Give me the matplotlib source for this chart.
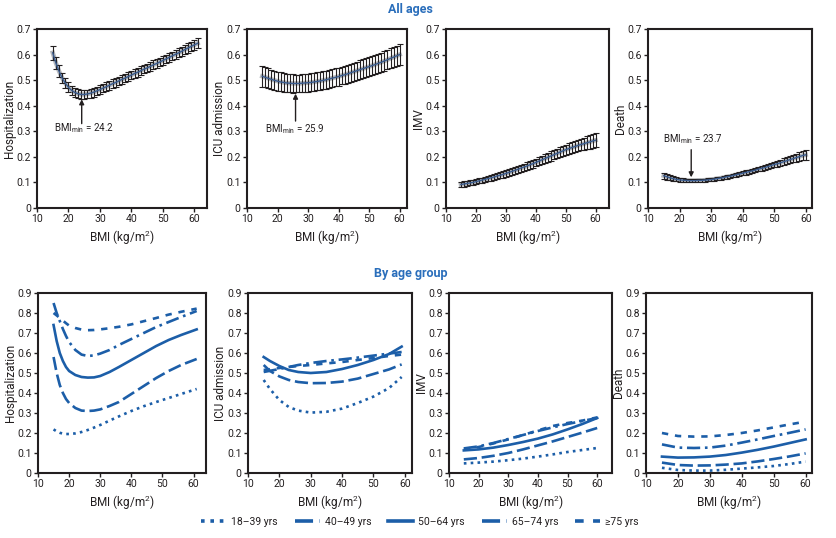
import numpy as np
import matplotlib
matplotlib.use('Agg')
import matplotlib.pyplot as plt
from matplotlib.lines import Line2D

plt.rcParams['font.family'] = ['Roboto', 'DejaVu Sans']
plt.rcParams['mathtext.fontset'] = 'custom'
plt.rcParams['mathtext.rm'] = 'Roboto'

BLUE = '#1c5ea8'
TITLE_BLUE = '#2a6ebb'
INK = '#231f20'

# ── All ages (top row): point estimates with 95% CI half-widths ───────────
bmi_hosp = list(range(15, 62))
hosp = [0.607, 0.567, 0.535, 0.508, 0.488, 0.472, 0.460, 0.452, 0.447, 0.444,
        0.444, 0.446, 0.449, 0.453, 0.458, 0.463, 0.469, 0.474, 0.480, 0.486,
        0.491, 0.497, 0.503, 0.508, 0.514, 0.520, 0.526, 0.531, 0.537, 0.543,
        0.548, 0.554, 0.560, 0.565, 0.571, 0.577, 0.583, 0.589, 0.595, 0.601,
        0.607, 0.613, 0.620, 0.626, 0.632, 0.638, 0.644]
hosp_err = [0.028, 0.025, 0.023, 0.021, 0.020, 0.019, 0.018, 0.018, 0.017, 0.017,
            0.017, 0.017, 0.017, 0.017, 0.017, 0.017, 0.017, 0.017, 0.017, 0.017,
            0.017, 0.017, 0.017, 0.017, 0.017, 0.017, 0.017, 0.017, 0.017, 0.017,
            0.017, 0.017, 0.017, 0.017, 0.017, 0.017, 0.017, 0.017, 0.017, 0.018,
            0.018, 0.018, 0.018, 0.018, 0.019, 0.019, 0.020]

bmi_icu = list(range(15, 61))
icu = [0.515, 0.511, 0.507, 0.503, 0.499, 0.496, 0.493, 0.491, 0.489, 0.488,
       0.487, 0.487, 0.487, 0.488, 0.489, 0.490, 0.491, 0.493, 0.495, 0.497,
       0.499, 0.502, 0.505, 0.508, 0.511, 0.514, 0.518, 0.521, 0.525, 0.529,
       0.533, 0.537, 0.541, 0.545, 0.549, 0.553, 0.557, 0.561, 0.566, 0.570,
       0.575, 0.580, 0.585, 0.590, 0.595, 0.600]
icu_err = [0.040, 0.039, 0.039, 0.038, 0.038, 0.037, 0.037, 0.036, 0.036, 0.036,
           0.036, 0.035, 0.035, 0.035, 0.035, 0.035, 0.035, 0.035, 0.035, 0.035,
           0.035, 0.035, 0.035, 0.035, 0.035, 0.035, 0.035, 0.035, 0.035, 0.035,
           0.035, 0.035, 0.036, 0.036, 0.036, 0.036, 0.037, 0.037, 0.037, 0.038,
           0.038, 0.038, 0.039, 0.039, 0.040, 0.040]

bmi_imv = list(range(15, 61))
imv = [0.092, 0.094, 0.096, 0.098, 0.100, 0.103, 0.106, 0.109, 0.112, 0.115,
       0.118, 0.121, 0.125, 0.128, 0.131, 0.135, 0.139, 0.143, 0.147, 0.151,
       0.156, 0.160, 0.164, 0.169, 0.173, 0.178, 0.183, 0.188, 0.193, 0.198,
       0.203, 0.208, 0.213, 0.218, 0.223, 0.228, 0.232, 0.236, 0.240, 0.244,
       0.248, 0.251, 0.255, 0.258, 0.262, 0.265]
imv_err = [0.010, 0.010, 0.010, 0.010, 0.010, 0.010, 0.010, 0.010, 0.011, 0.011,
           0.011, 0.011, 0.011, 0.012, 0.012, 0.012, 0.012, 0.013, 0.013, 0.013,
           0.014, 0.014, 0.014, 0.015, 0.015, 0.015, 0.016, 0.016, 0.017, 0.017,
           0.018, 0.018, 0.019, 0.019, 0.020, 0.020, 0.021, 0.021, 0.022, 0.023,
           0.023, 0.024, 0.025, 0.026, 0.027, 0.028]

bmi_death = list(range(15, 61))
death = [0.126, 0.122, 0.118, 0.115, 0.112, 0.110, 0.109, 0.108, 0.107, 0.107,
         0.107, 0.108, 0.108, 0.109, 0.110, 0.111, 0.113, 0.115, 0.117, 0.119,
         0.122, 0.124, 0.127, 0.130, 0.133, 0.136, 0.139, 0.142, 0.145, 0.148,
         0.152, 0.155, 0.158, 0.162, 0.166, 0.170, 0.173, 0.177, 0.181, 0.185,
         0.189, 0.193, 0.197, 0.201, 0.205, 0.208]
death_err = [0.012, 0.011, 0.010, 0.009, 0.008, 0.007, 0.007, 0.007, 0.006, 0.006,
             0.006, 0.006, 0.006, 0.006, 0.006, 0.006, 0.006, 0.006, 0.006, 0.007,
             0.007, 0.007, 0.007, 0.007, 0.008, 0.008, 0.008, 0.008, 0.009, 0.009,
             0.009, 0.010, 0.010, 0.010, 0.011, 0.011, 0.012, 0.012, 0.013, 0.014,
             0.014, 0.015, 0.016, 0.017, 0.018, 0.019]

bmi_min = {'hosp': 24.2, 'icu': 25.9, 'death': 23.7}

# ── By age group (bottom row) ─────────────────────────────────────────────
age_groups = ['18–39 yrs', '40–49 yrs', '50–64 yrs', '65–74 yrs', '≥75 yrs']

bmi_h_age = [15, 16, 17, 18, 19, 20, 22, 24, 26, 28, 30, 33, 36, 40, 44, 48, 52, 56, 61]
hosp_age = [
    [0.218, 0.208, 0.201, 0.197, 0.195, 0.195, 0.198, 0.205, 0.215, 0.227, 0.240,
     0.262, 0.283, 0.310, 0.334, 0.355, 0.375, 0.395, 0.420],
    [0.580, 0.500, 0.440, 0.400, 0.370, 0.350, 0.325, 0.312, 0.310, 0.312, 0.318,
     0.335, 0.355, 0.395, 0.435, 0.475, 0.510, 0.540, 0.570],
    [0.740, 0.660, 0.600, 0.560, 0.530, 0.510, 0.490, 0.480, 0.477, 0.478, 0.485,
     0.505, 0.530, 0.565, 0.600, 0.635, 0.665, 0.690, 0.718],
    [0.850, 0.800, 0.760, 0.720, 0.685, 0.655, 0.615, 0.592, 0.585, 0.588, 0.597,
     0.615, 0.640, 0.670, 0.700, 0.730, 0.755, 0.780, 0.810],
    [0.800, 0.788, 0.775, 0.762, 0.749, 0.737, 0.725, 0.717, 0.714, 0.715, 0.718,
     0.724, 0.731, 0.743, 0.759, 0.775, 0.792, 0.806, 0.822],
]

bmi_i_age = [15, 17, 20, 23, 26, 30, 35, 40, 45, 50, 55, 59]
icu_age = [
    [0.465, 0.420, 0.365, 0.330, 0.312, 0.302, 0.306, 0.322, 0.350, 0.382, 0.425, 0.480],
    [0.540, 0.510, 0.483, 0.465, 0.455, 0.449, 0.450, 0.457, 0.472, 0.495, 0.518, 0.543],
    [0.580, 0.560, 0.535, 0.515, 0.505, 0.500, 0.505, 0.520, 0.540, 0.565, 0.595, 0.632],
    [0.505, 0.511, 0.520, 0.530, 0.540, 0.550, 0.560, 0.568, 0.577, 0.587, 0.597, 0.605],
    [0.515, 0.519, 0.525, 0.530, 0.535, 0.540, 0.548, 0.555, 0.565, 0.575, 0.585, 0.592],
]

bmi_v_age = [15, 20, 25, 30, 35, 40, 45, 50, 55, 60]
imv_age = [
    [0.048, 0.052, 0.057, 0.064, 0.072, 0.082, 0.093, 0.105, 0.115, 0.125],
    [0.068, 0.075, 0.086, 0.100, 0.118, 0.138, 0.158, 0.180, 0.202, 0.225],
    [0.113, 0.118, 0.127, 0.140, 0.155, 0.172, 0.193, 0.218, 0.245, 0.275],
    [0.123, 0.133, 0.150, 0.170, 0.190, 0.210, 0.228, 0.245, 0.260, 0.275],
    [0.120, 0.130, 0.148, 0.168, 0.190, 0.213, 0.235, 0.250, 0.262, 0.278],
]

bmi_d_age = [15, 20, 25, 30, 35, 40, 45, 50, 55, 60]
death_age = [
    [0.026, 0.015, 0.012, 0.012, 0.016, 0.022, 0.028, 0.035, 0.045, 0.057],
    [0.052, 0.040, 0.037, 0.038, 0.042, 0.048, 0.058, 0.070, 0.083, 0.098],
    [0.082, 0.077, 0.078, 0.082, 0.090, 0.102, 0.116, 0.132, 0.150, 0.168],
    [0.143, 0.127, 0.125, 0.127, 0.137, 0.152, 0.168, 0.185, 0.201, 0.218],
    [0.200, 0.185, 0.182, 0.183, 0.190, 0.200, 0.213, 0.228, 0.243, 0.257],
]

styles = [(0, (1, 1.6)), (0, (5, 1.8)), '-', (0, (5, 1.8, 1, 1.8)), (0, (2.4, 2.6))]

W, H = 837, 538
fig = plt.figure(figsize=(W / 100, H / 100), dpi=100)


def px_axes(x0, x1, ytop, ybot):
    return fig.add_axes([x0 / W, (H - ybot) / H, (x1 - x0) / W, (ybot - ytop) / H])


def style_axes(ax, xmax, ymax, ylabel):
    ax.set_xlim(10, xmax)
    ax.set_ylim(0, ymax)
    ax.set_xticks(range(10, 61, 10))
    yt = np.round(np.arange(0, ymax + 0.001, 0.1), 1)
    ax.set_yticks(yt)
    ax.set_yticklabels(['0'] + [f'{v:.1f}' for v in yt[1:]])
    for s in ax.spines.values():
        s.set_linewidth(1.5)
        s.set_color(INK)
    ax.tick_params(direction='out', length=3, width=1, labelsize=7.5,
                   colors=INK, pad=1.5)
    ax.set_xlabel('BMI (kg/m$^\\mathregular{2}$)', fontsize=8.5, color=INK, labelpad=3)
    ax.set_ylabel(ylabel, fontsize=8.5, color=INK, labelpad=0)


# top row
top = [
    (37, 207, 64, bmi_hosp, hosp, hosp_err, 'Hospitalization'),
    (247, 407, 62.4, bmi_icu, icu, icu_err, 'ICU admission'),
    (446, 609, 64.5, bmi_imv, imv, imv_err, 'IMV'),
    (648, 812, 62, bmi_death, death, death_err, 'Death'),
]
top_axes = []
for x0, x1, xmax, xs, ys, es, lab in top:
    ax = px_axes(x0, x1, 29, 208)
    ax.plot(xs, ys, color='#b5b8bd', lw=3.2, zorder=2)
    ax.errorbar(xs, ys, yerr=es, fmt='none', ecolor=INK, elinewidth=0.8,
                capsize=2.3, capthick=0.8, zorder=3)
    ax.plot(xs, ys, color='#3a5c8f', lw=1.0, zorder=4)
    style_axes(ax, xmax, 0.7, lab)
    top_axes.append(ax)

ann_kw = dict(arrowprops=dict(arrowstyle='-|>', color=INK, lw=1.0,
                              mutation_scale=7, shrinkA=0, shrinkB=0))
top_axes[0].annotate('', xy=(bmi_min['hosp'], 0.425), xytext=(bmi_min['hosp'], 0.33),
                     **ann_kw)
top_axes[0].text(15.3, 0.313, 'BMI$_{\\mathregular{min}}$ = %.1f' % bmi_min['hosp'],
                 fontsize=7, color=INK, va='center')
top_axes[1].annotate('', xy=(bmi_min['icu'], 0.447), xytext=(bmi_min['icu'], 0.34),
                     **ann_kw)
top_axes[1].text(16.0, 0.31, 'BMI$_{\\mathregular{min}}$ = %.1f' % bmi_min['icu'],
                 fontsize=7, color=INK, va='center')
top_axes[3].annotate('', xy=(bmi_min['death'], 0.12), xytext=(bmi_min['death'], 0.228),
                     **ann_kw)
top_axes[3].text(14.9, 0.268, 'BMI$_{\\mathregular{min}}$ = %.1f' % bmi_min['death'],
                 fontsize=7, color=INK, va='center')

# bottom row
bottom = [
    (38, 206, 64, bmi_h_age, hosp_age, 'Hospitalization'),
    (248, 412, 62.3, bmi_i_age, icu_age, 'ICU admission'),
    (449, 612, 65, bmi_v_age, imv_age, 'IMV'),
    (646, 812, 62, bmi_d_age, death_age, 'Death'),
]
for x0, x1, xmax, xs, series, lab in bottom:
    ax = px_axes(x0, x1, 293, 473)
    for ys, ls in zip(series, styles):
        ax.plot(xs, ys, color=BLUE, lw=1.9, linestyle=ls)
    style_axes(ax, xmax, 0.9, lab)

fig.text(410 / W, 1 - 10 / H, 'All ages', ha='center', va='center',
         fontsize=9, fontweight='bold', color=TITLE_BLUE)
fig.text(411 / W, 1 - 274 / H, 'By age group', ha='center', va='center',
         fontsize=9, fontweight='bold', color=TITLE_BLUE)

handles = [Line2D([], [], color=BLUE, lw=2.6, linestyle=ls) for ls in styles]
fig.legend(handles, age_groups, loc='center', bbox_to_anchor=(420 / W, 1 - 522 / H),
           ncol=5, frameon=False, fontsize=7.5, handlelength=2.4, columnspacing=1.6,
           handletextpad=0.5, labelcolor=INK)

fig.savefig('out.png', dpi=100)
